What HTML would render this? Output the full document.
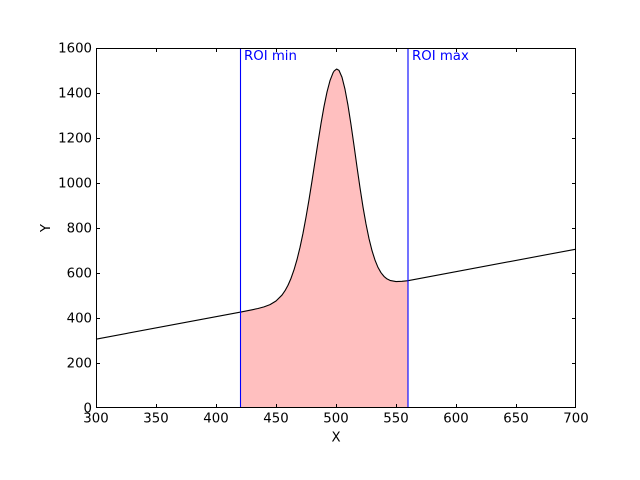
<!DOCTYPE html>
<html><head><meta charset="utf-8"><style>
html,body{margin:0;padding:0;background:#fff;}
svg{display:block;}
text{font-family:"DejaVu Sans","Liberation Sans",sans-serif;font-size:13.3px;fill:#000;}
</style></head><body>
<svg width="640" height="480" viewBox="0 0 640 480" xmlns="http://www.w3.org/2000/svg">
<rect x="0" y="0" width="640" height="480" fill="#fff"/>
<!-- fill -->
<polygon fill="#ffbfbf" points="240,408 240,312.15 252,309.79 258,308.5 264,306.86 270,304.6 276,301.01 282,295.05 285,290.73 288,285.24 291,278.35 294,269.85 297,259.57 300,247.35 303,233.24 306,217.2 309,199.76 312,181.0 315,161.6 318,142.3 321,123.6 324,106.5 327,92.0 330,80.6 333,72.9 334.2,70.9 336.6,69.04 339,70.4 342,77.25 345,89.3 348,105.4 351,124.6 354,145.4 357,166.9 360,187.7 363,207.0 366,223.95 369,238.6 372,250.6 375,260.1 378,267.4 381,272.7 384,276.4 387,278.9 390,280.4 396,281.55 402,281.3 408,280.65 408,408"/>
<!-- curve -->
<polyline fill="none" stroke="#000" stroke-width="1.1" stroke-linejoin="round" points="96,339.15 240,312.15 252,309.79 258,308.5 264,306.86 270,304.6 276,301.01 282,295.05 285,290.73 288,285.24 291,278.35 294,269.85 297,259.57 300,247.35 303,233.24 306,217.2 309,199.76 312,181.0 315,161.6 318,142.3 321,123.6 324,106.5 327,92.0 330,80.6 333,72.9 334.2,70.9 336.6,69.04 339,70.4 342,77.25 345,89.3 348,105.4 351,124.6 354,145.4 357,166.9 360,187.7 363,207.0 366,223.95 369,238.6 372,250.6 375,260.1 378,267.4 381,272.7 384,276.4 387,278.9 390,280.4 396,281.55 402,281.3 408,280.65 576,249.15"/>
<!-- ROI lines -->
<line x1="240.5" y1="48" x2="240.5" y2="408" stroke="#0000ff" stroke-width="1.1"/>
<line x1="408" y1="48" x2="408" y2="408" stroke="#0000ff" stroke-width="1.1"/>
<text x="244" y="60" style="fill:#0000ff">ROI min</text>
<text x="412" y="60" style="fill:#0000ff">ROI max</text>
<!-- frame -->
<rect x="96.5" y="48.5" width="479" height="359" fill="none" stroke="#000" stroke-width="1"/>
<!-- ticks -->
<g stroke="#000" stroke-width="1">
<path d="M156.5,408V404M216.5,408V404M276.5,408V404M336.5,408V404M396.5,408V404M456.5,408V404M516.5,408V404"/>
<path d="M156.5,48V52M216.5,48V52M276.5,48V52M336.5,48V52M396.5,48V52M456.5,48V52M516.5,48V52"/>
<path d="M96,363.5H100M96,318.5H100M96,273.5H100M96,228.5H100M96,183.5H100M96,138.5H100M96,93.5H100"/>
<path d="M576,363.5H572M576,318.5H572M576,273.5H572M576,228.5H572M576,183.5H572M576,138.5H572M576,93.5H572"/>
</g>
<!-- x tick labels -->
<g text-anchor="middle">
<text x="96" y="422.5">300</text>
<text x="156" y="422.5">350</text>
<text x="216" y="422.5">400</text>
<text x="276" y="422.5">450</text>
<text x="336" y="422.5">500</text>
<text x="396" y="422.5">550</text>
<text x="456" y="422.5">600</text>
<text x="516" y="422.5">650</text>
<text x="576" y="422.5">700</text>
<text x="336" y="441.5">X</text>
</g>
<!-- y tick labels -->
<g text-anchor="end">
<text x="92" y="412.3">0</text>
<text x="92" y="367.3">200</text>
<text x="92" y="322.3">400</text>
<text x="92" y="277.3">600</text>
<text x="92" y="232.3">800</text>
<text x="92" y="187.3">1000</text>
<text x="92" y="142.3">1200</text>
<text x="92" y="97.3">1400</text>
<text x="92" y="52.3">1600</text>
</g>
<text x="0" y="0" text-anchor="middle" transform="translate(50,228) rotate(-90)">Y</text>
</svg>
</body></html>
